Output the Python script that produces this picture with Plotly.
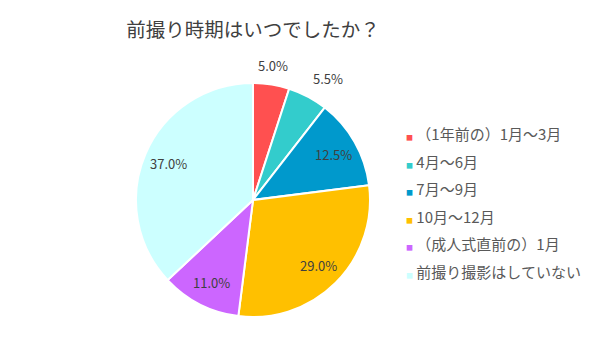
import math
import plotly.graph_objects as go

categories = ["（1年前の）1月～3月", "4月～6月", "7月～9月", "10月～12月", "（成人式直前の）1月", "前撮り撮影はしていない"]
values = [5.0, 5.5, 12.5, 29.0, 11.0, 37.0]
colors = ["#FF5050", "#33CCCC", "#0099CC", "#FFC000", "#CC66FF", "#CCFFFF"]
outside = [True, True, False, False, False, False]

font_family = "Noto Sans CJK JP, Noto Sans, sans-serif"
W, H = 600, 360
CX, CY, R = 253, 200, 117  # pie centre and radius in pixels

fig = go.Figure()
fig.add_trace(go.Pie(
    labels=categories, values=values, sort=False, direction="clockwise",
    marker=dict(colors=colors, line=dict(color="white", width=2)),
    textinfo="none", showlegend=False, hoverinfo="label+percent",
    domain=dict(x=[(CX - R) / W, (CX + R) / W], y=[1 - (CY + R) / H, 1 - (CY - R) / H]),
))

# data labels, placed from the slice angles
total = sum(values)
cum = 0.0
for v, out in zip(values, outside):
    mid = (cum + v / 2) / total * 2 * math.pi
    cum += v
    s, c = math.sin(mid), math.cos(mid)
    if out:
        r = R + 8
        xa = "center" if abs(s) < 0.3 else ("left" if s > 0 else "right")
        ya = "bottom" if c > 0 else "top"
    else:
        r = R * 0.79
        xa, ya = "center", "middle"
    px, py = CX + r * s, CY - r * c
    fig.add_annotation(x=px / W, y=1 - py / H, xref="paper", yref="paper",
                       text=f"{v:.1f}%", showarrow=False, xanchor=xa, yanchor=ya,
                       font=dict(size=13, color="#404040", family=font_family))

for i, (cat, col) in enumerate(zip(categories, colors)):
    fig.add_trace(go.Scatter(
        x=[None], y=[None], mode="lines", legendgroup=str(i),
        name=f"<span style='color:{col};font-size:7px'>■</span>\u00a0{cat}",
        line=dict(color="rgba(0,0,0,0)", width=0),
    ))

fig.update_layout(
    width=W, height=H,
    margin=dict(l=0, r=0, t=0, b=0),
    paper_bgcolor="white", plot_bgcolor="white",
    title=dict(text="前撮り時期はいつでしたか？", x=253 / W, xanchor="center", y=1 - 30 / H, yanchor="middle",
               font=dict(size=19.5, color="#404040", family=font_family)),
    xaxis=dict(visible=False), yaxis=dict(visible=False),
    legend=dict(x=366 / W, xanchor="left", y=1 - 118 / H, yanchor="top",
                font=dict(size=15, color="#595959", family=font_family),
                tracegroupgap=5, itemwidth=30, bgcolor="rgba(0,0,0,0)"),
)
fig.write_html("out.html", config={"displayModeBar": False},
               post_script="document.body.style.margin='0px';")
